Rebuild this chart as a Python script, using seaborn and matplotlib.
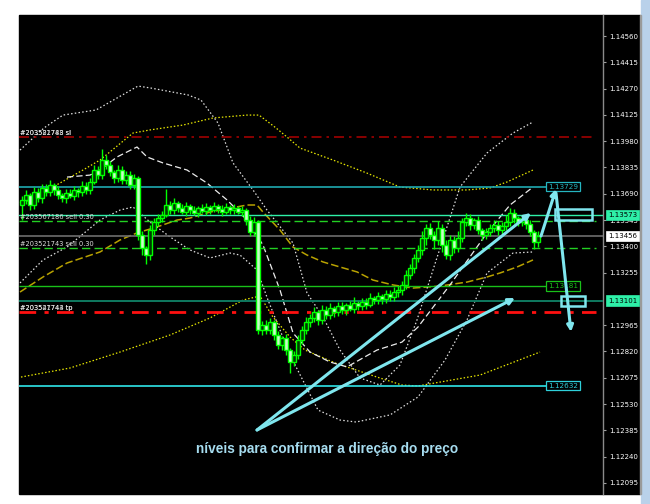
import numpy as np
import seaborn as sns
import matplotlib.pyplot as plt
from matplotlib.patches import Rectangle

# candle closes (one per bar, left to right)
closes = [
    1.13656, 1.13683, 1.13628, 1.13700, 1.13667, 1.13722, 1.13700, 1.13738, 1.13711, 1.13683,
    1.13667, 1.13694, 1.13678, 1.13711, 1.13700, 1.13733, 1.13711, 1.13755, 1.13821, 1.13793,
    1.13876, 1.13849, 1.13810, 1.13777, 1.13821, 1.13766, 1.13793, 1.13738, 1.13777, 1.13463,
    1.13391, 1.13352, 1.13490, 1.13534, 1.13556, 1.13573, 1.13628, 1.13600, 1.13639, 1.13611,
    1.13589, 1.13622, 1.13600, 1.13584, 1.13611, 1.13595, 1.13617, 1.13600, 1.13622, 1.13606,
    1.13589, 1.13617, 1.13600, 1.13611, 1.13589, 1.13600, 1.13545, 1.13479, 1.13534, 1.12939,
    1.12966, 1.12939, 1.12983, 1.12911, 1.12856, 1.12894, 1.12828, 1.12762, 1.12801, 1.12883,
    1.12939, 1.12983, 1.13005, 1.13038, 1.12994, 1.13049, 1.13021, 1.13060, 1.13038, 1.13071,
    1.13049, 1.13077, 1.13054, 1.13088, 1.13071, 1.13093, 1.13077, 1.13115, 1.13104, 1.13126,
    1.13110, 1.13137, 1.13121, 1.13148, 1.13159, 1.13187, 1.13242, 1.13281, 1.13336, 1.13380,
    1.13446, 1.13501, 1.13463, 1.13435, 1.13501, 1.13407, 1.13352, 1.13435, 1.13391, 1.13446,
    1.13534, 1.13556, 1.13518, 1.13545, 1.13490, 1.13463, 1.13479, 1.13501, 1.13518, 1.13490,
    1.13512, 1.13534, 1.13584, 1.13556, 1.13534, 1.13545, 1.13523, 1.13479, 1.13424, 1.13456,
]
first_open = 1.13628

# wick sizes above / below the body, in pips
wick_up = [
    2, 3, 1, 3, 2, 2, 2, 3, 1, 2,
    1, 2, 2, 2, 1, 3, 2, 2, 3, 2,
    6, 3, 2, 1, 3, 2, 2, 2, 2, 1,
    2, 1, 3, 2, 2, 2, 9, 2, 3, 1,
    2, 2, 1, 2, 1, 2, 2, 1, 2, 1,
    2, 2, 1, 2, 1, 2, 1, 2, 3, 1,
    2, 3, 2, 1, 2, 1, 2, 1, 2, 3,
    2, 3, 2, 3, 1, 3, 2, 3, 1, 2,
    2, 1, 2, 3, 1, 2, 2, 3, 1, 2,
    1, 2, 2, 3, 2, 2, 3, 2, 2, 3,
    4, 2, 3, 2, 4, 2, 3, 3, 2, 4,
    2, 3, 2, 1, 2, 1, 2, 2, 3, 2,
    2, 4, 3, 2, 1, 3, 2, 2, 1, 3,
]
wick_dn = [
    8, 2, 3, 2, 2, 3, 2, 2, 3, 2,
    2, 3, 1, 2, 3, 2, 2, 2, 1, 2,
    2, 2, 2, 3, 2, 2, 2, 2, 2, 3,
    4, 5, 3, 3, 2, 2, 1, 2, 2, 2,
    1, 2, 2, 1, 2, 1, 2, 2, 1, 2,
    2, 1, 2, 2, 1, 2, 3, 2, 2, 2,
    3, 2, 2, 3, 2, 3, 3, 6, 2, 2,
    2, 2, 3, 2, 3, 2, 2, 2, 3, 2,
    2, 3, 1, 2, 2, 2, 2, 1, 2, 2,
    3, 2, 2, 2, 3, 3, 2, 2, 3, 2,
    3, 4, 2, 5, 3, 4, 2, 3, 3, 2,
    2, 2, 3, 2, 2, 3, 2, 2, 2, 3,
    2, 2, 2, 3, 2, 2, 3, 2, 4, 3,
]

# indicator curves: (bar index, price)
bb_up_x = [-0.5, 5.5, 10.25, 18.5, 29, 32.25, 41.5, 44.75, 49, 52.75, 57.75, 61.25, 67.75,
           71.25, 75.25, 79.5, 84.5, 89.5, 94.5, 98.75, 102.75, 109.5, 116.25, 122.75, 127.75]
bb_up_y = [1.13931, 1.14053, 1.14124, 1.14152, 1.14284, 1.14273, 1.14235, 1.14207, 1.14080,
           1.13860, 1.13711, 1.13600, 1.13418, 1.13143, 1.13010, 1.12828, 1.12674, 1.12635,
           1.12746, 1.12994, 1.13270, 1.13727, 1.13915, 1.14025, 1.14086]

bb_lo_x = [-0.5, 5.25, 11.25, 19.5, 24.5, 27.75, 32, 37, 42, 47, 52, 54.5, 58.75, 61.5, 67,
           74, 79.5, 83.5, 92, 99, 105.75, 111.25, 116.25, 122.75, 127.75]
bb_lo_y = [1.13198, 1.13325, 1.13396, 1.13545, 1.13600, 1.13617, 1.13534, 1.13452, 1.13380,
           1.13336, 1.13363, 1.13352, 1.13270, 1.13104, 1.12801, 1.12497, 1.12442, 1.12431,
           1.12470, 1.12569, 1.12773, 1.12994, 1.13253, 1.13363, 1.13369]

mid_x = [11.25, 17, 19.5, 23.75, 28.75, 31.25, 35.25, 41.25, 46.25, 51.25, 56.25, 60.25,
         64.5, 67.75, 72, 77, 81.25, 88.75, 95, 99, 107, 116.25, 122, 127.75]
mid_y = [1.13782, 1.13793, 1.13821, 1.13893, 1.13948, 1.13893, 1.13860, 1.13821, 1.13749,
         1.13656, 1.13545, 1.13407, 1.13159, 1.12922, 1.12817, 1.12762, 1.12735, 1.12828,
         1.12872, 1.12955, 1.13187, 1.13474, 1.13628, 1.13727]

env_up_x = [-0.5, 2, 15.25, 19.5, 27.75, 32, 40.25, 47.75, 56.25, 59.25, 63.5, 66.25, 69.5,
            77.75, 86.25, 94.5, 102.75, 111.25, 117, 121.25, 127.75]
env_up_y = [1.13639, 1.13656, 1.13821, 1.13876, 1.14025, 1.14042, 1.14069, 1.14108, 1.14124,
            1.14124, 1.14053, 1.14003, 1.13942, 1.13876, 1.13804, 1.13727, 1.13711, 1.13711,
            1.13722, 1.13755, 1.13821]

env_lo_x = [-0.25, 12, 24.5, 37, 47, 55.25, 59.5, 62.75, 67, 70.75, 78.25, 88.75, 95, 99,
            114.5, 129.5]
env_lo_y = [1.12679, 1.12729, 1.12817, 1.12911, 1.13005, 1.13104, 1.13126, 1.13010, 1.12900,
            1.12828, 1.12757, 1.12679, 1.12635, 1.12630, 1.12690, 1.12817]

ma_x = [-0.5, 5.25, 11.25, 19.5, 24.5, 28.75, 33.75, 38.75, 42, 47, 56.25, 58.75, 60.25,
        64.5, 67.75, 71.25, 75.25, 79.5, 83.75, 87.75, 92.75, 97.75, 104.5, 111.25, 116.25,
        119.5, 123.75, 127.75]
ma_y = [1.13148, 1.13231, 1.13308, 1.13369, 1.13435, 1.13474, 1.13507, 1.13545, 1.13556,
        1.13589, 1.13628, 1.13628, 1.13589, 1.13490, 1.13396, 1.13352, 1.13314, 1.13286,
        1.13259, 1.13214, 1.13187, 1.13170, 1.13181, 1.13203, 1.13231, 1.13253, 1.13286,
        1.13325]

# price scale labels
tick_labels = ["1.14560", "1.14415", "1.14270", "1.14125", "1.13980", "1.13835", "1.13690",
               "1.13545", "1.13400", "1.13255", "1.12965", "1.12820", "1.12675", "1.12530",
               "1.12385", "1.12240", "1.12095"]

# order lines
sl_price = 1.14003
tp_price = 1.13040
order_prices = [1.13540, 1.13391]
order_texts = ["#203567186 sell 0.30", "#203521743 sell 0.30"]
bid_price = 1.13456

sns.set_theme(style="dark")
plt.rcParams['font.family'] = ['DejaVu Sans']

fig = plt.figure(figsize=(6.5, 5.04), dpi=100, facecolor="white")
W, H = 650, 504
fig.patches.append(Rectangle((19 / W, 10 / H), 621 / W, 479 / H, transform=fig.transFigure,
                             color="black", zorder=-2))
fig.patches.append(Rectangle((641 / W, 0), 9 / W, 1, transform=fig.transFigure,
                             color="#b9d1ea", zorder=-2))
fig.patches.append(Rectangle((639.5 / W, 10 / H), 1.5 / W, 479 / H, transform=fig.transFigure,
                             color="#9a9a9a", zorder=-1))

ax = fig.add_axes([19 / W, 10 / H, 584 / W, 479 / H])
ax.set_facecolor("black")
ax.set_xlim(-0.75, 145.25)
ax.set_ylim(1.12034, 1.14676)
for s in ["top", "left", "bottom"]:
    ax.spines[s].set_visible(False)
ax.spines["right"].set_color("#8a8a8a")
ax.spines["right"].set_linewidth(1)
ax.set_xticks([])
ax.yaxis.tick_right()
ax.set_yticks([float(t) for t in tick_labels])
ax.set_yticklabels(tick_labels)
ax.tick_params(axis="y", direction="out", length=2.5, width=0.8, color="#a0a0a0",
               labelcolor="white", labelsize=5, pad=2)
ax.grid(False)

# indicators
sns.lineplot(x=env_up_x, y=env_up_y, ax=ax, color="#e6e600", linestyle=(0, (1.2, 1.6)),
             lw=0.9, sort=False, zorder=2)
sns.lineplot(x=env_lo_x, y=env_lo_y, ax=ax, color="#e6e600", linestyle=(0, (1.2, 1.6)),
             lw=0.9, sort=False, zorder=2)
sns.lineplot(x=ma_x, y=ma_y, ax=ax, color="#b8a200", linestyle=(0, (5, 2)),
             lw=1.1, sort=False, zorder=2)
sns.lineplot(x=bb_up_x, y=bb_up_y, ax=ax, color="#e0e0e0", linestyle=(0, (1.2, 1.8)),
             lw=0.9, sort=False, zorder=2)
sns.lineplot(x=bb_lo_x, y=bb_lo_y, ax=ax, color="#e0e0e0", linestyle=(0, (1.2, 1.8)),
             lw=0.9, sort=False, zorder=2)
sns.lineplot(x=mid_x, y=mid_y, ax=ax, color="#ececec", linestyle=(0, (5, 2.5)),
             lw=0.9, sort=False, zorder=2)

# horizontal levels
ax.hlines(1.13729, -0.75, 131, color="#1fa9b0", lw=1.2, zorder=3)
ax.axhline(1.13573, color="#2ef0a8", lw=1.0, zorder=3)
ax.axhline(bid_price, color="#6e6e6e", lw=1.2, zorder=3)
ax.hlines(1.13181, -0.75, 131, color="#19c019", lw=1.0, zorder=3)
ax.axhline(1.13101, color="#0f7a60", lw=1.4, zorder=3)
ax.hlines(1.12632, -0.75, 131, color="#2fe6ea", lw=1.2, zorder=3)
for p in order_prices:
    ax.hlines(p, -0.75, 143.5, color="#22d022", lw=1.0, linestyles=(0, (6, 3)), zorder=3)
ax.hlines(sl_price, -0.75, 143.5, color="#a00000", lw=1.2, linestyles=(0, (6, 3, 1.5, 3)), zorder=3)
ax.hlines(tp_price, -0.75, 143.5, color="#ff1010", lw=2.0, linestyles=(0, (6, 3, 1.5, 3)), zorder=3)

# candles
n = len(closes)
opens = [first_open] + closes[:-1]
idx = np.arange(n)
o = np.array(opens)
c = np.array(closes)
top = np.maximum(o, c)
bot = np.minimum(o, c)
highs = top + np.array(wick_up) * 0.0001
lows = bot - np.array(wick_dn) * 0.0001
ax.vlines(idx, lows, highs, color="#00ff00", lw=1.0, zorder=4)
fill = ["#003800" if cc >= oo else "#c8ffc8" for oo, cc in zip(o, c)]
ax.bar(idx, np.maximum(top - bot, 0.00004), bottom=bot, width=0.78, color=fill,
       edgecolor="#00ff00", linewidth=1.0, zorder=5)

# order labels at left
lab = dict(color="#e0e0e0", fontsize=4.8, ha="left", va="bottom", zorder=6)
ax.text(-0.4, sl_price + 0.00004, "#203582788 sl", **lab)
ax.text(-0.4, sl_price + 0.00004, "#203521743 sl", **lab)
ax.text(-0.4, order_prices[0] + 0.00004, order_texts[0], **lab)
ax.text(-0.4, order_prices[1] + 0.00004, order_texts[1], **lab)
ax.text(-0.4, tp_price + 0.00004, "#203547744 tp", **lab)
ax.text(-0.4, tp_price + 0.00004, "#203521743 tp", **lab)

# price boxes inside the chart
for price, col in [(1.13729, "#25b5c0"), (1.13181, "#19c019"), (1.12632, "#2fd0da")]:
    ax.text(135.25, price, f"{price:.5f}", color=col, fontsize=5.2, ha="center", va="center",
            zorder=7, bbox=dict(boxstyle="square,pad=0.25", fc="black", ec=col, lw=0.9))

# price boxes on the scale
for price, fc in [(1.13573, "#2ef0a8"), (bid_price, "white"), (1.13101, "#2ef0a8")]:
    ax.annotate(f"{price:.5f}", xy=(1.0, price), xycoords=("axes fraction", "data"),
                xytext=(3.5, 0), textcoords="offset points", color="black", fontsize=5,
                ha="left", va="center", annotation_clip=False, zorder=8,
                bbox=dict(boxstyle="square,pad=0.3", fc=fc, ec=fc, lw=0.5))

# hand-drawn annotations
cyan = "#7fe6ee"
arrows = [((58.75, 1.12387), (127.25, 1.13584)),
          ((58.75, 1.12387), (123.25, 1.13115)),
          ((129.75, 1.13457), (133.5, 1.13716)),
          ((133.5, 1.13694), (137.25, 1.12928))]
for tail, head in arrows:
    ax.annotate("", xy=head, xytext=tail, zorder=9, annotation_clip=False,
                arrowprops=dict(arrowstyle="-|>", color=cyan, lw=2.2, mutation_scale=9,
                                shrinkA=0, shrinkB=0))
ax.add_patch(Rectangle((133.25, 1.13545), 9.25, 0.00061, fill=False, ec=cyan, lw=1.8, zorder=9))
ax.add_patch(Rectangle((134.75, 1.13071), 6.0, 0.00055, fill=False, ec=cyan, lw=1.8, zorder=9))
ax.text(76.25, 1.12282, "níveis para confirmar a direção do preço", color="#a6dcef",
        fontsize=9.8, fontweight="bold", ha="center", va="center", zorder=9,
        family=["Liberation Sans", "DejaVu Sans"])

fig.savefig("out.png", dpi=100, facecolor="white")
